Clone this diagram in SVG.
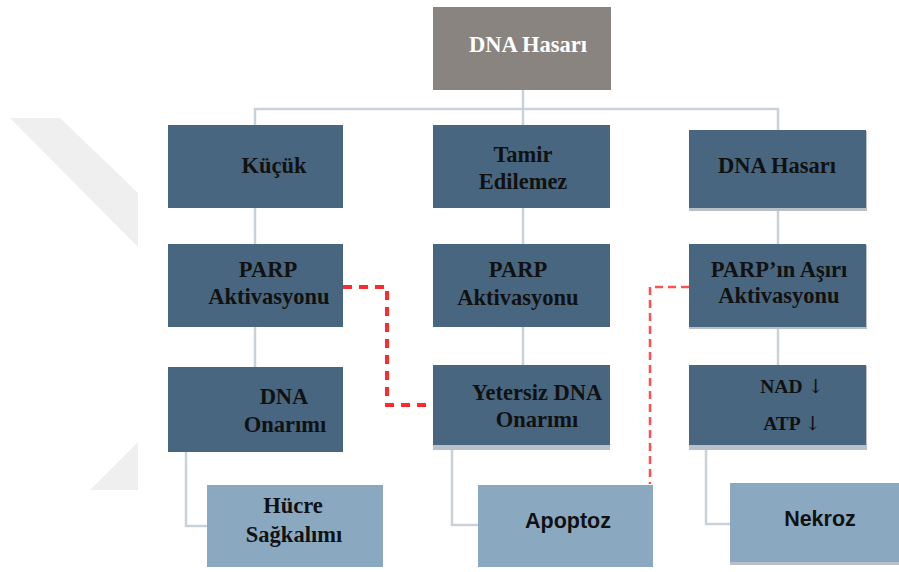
<svg xmlns="http://www.w3.org/2000/svg" width="899" height="572" viewBox="0 0 899 572">
<style>
.dk{fill:#48667f}
.lt{fill:#8aa9c1}
.sh{fill:#b9c0c8}
.t{font-family:"Liberation Serif","Times New Roman",serif;font-weight:bold;font-size:22.5px;fill:#111;text-anchor:middle}
.s{font-family:"Liberation Sans",Arial,sans-serif;font-weight:bold;font-size:21.5px;fill:#111;text-anchor:middle}
.a{font-family:"DejaVu Serif",serif;font-weight:normal}
.c{fill:none;stroke:#c9d1d9;stroke-width:2.5}
.r1{fill:none;stroke:#ff2a2a;stroke-width:4;stroke-dasharray:9,7}
.r2{fill:none;stroke:#ff5050;stroke-width:2.5;stroke-dasharray:8,5}
</style>
<rect width="899" height="572" fill="#fff"/>
<g id="watermark" fill="#efefef">
<polygon points="10,118 60,118 138,193 138,247"/>
<polygon points="138,442 138,490 90,490"/>
</g>
<g id="connectors">
<path class="c" d="M523,90 V125"/>
<path class="c" d="M255,125 V109 H778 V130"/>
<path class="c" d="M255,208 V244 M255,327 V367"/>
<path class="c" d="M186,452 V526 H207"/>
<path class="c" d="M523,208 V244 M523,327 V365"/>
<path class="c" d="M452,445 V525 H478"/>
<path class="c" d="M778,209 V244 M778,327 V365"/>
<path class="c" d="M706,445 V524 H730"/>
<path class="r1" d="M343,287 H387 V405 H433"/>
<path class="r2" d="M689,287 H650 V484"/>
</g>
<g id="n0">
<rect x="433" y="7" width="178" height="83" fill="#8a8480"/>
<text class="t" x="528" y="52" style="fill:#fff">DNA Hasarı</text>
</g>
<g id="n1">
<rect class="dk" x="168" y="125" width="175" height="83"/>
<text class="t" x="274" y="173">Küçük</text>
</g>
<g id="n2">
<rect class="dk" x="433" y="125" width="177" height="83"/>
<text class="t" x="523" y="162">Tamir</text>
<text class="t" x="523" y="189">Edilemez</text>
</g>
<g id="n3">
<rect class="sh" x="689" y="131" width="178" height="80"/>
<rect class="dk" x="689" y="130" width="177" height="78"/>
<text class="t" x="777" y="173">DNA Hasarı</text>
</g>
<g id="n4">
<rect class="dk" x="168" y="244" width="175" height="83"/>
<text class="t" x="268" y="277">PARP</text>
<text class="t" x="269" y="304">Aktivasyonu</text>
</g>
<g id="n5">
<rect class="dk" x="433" y="244" width="177" height="83"/>
<text class="t" x="518" y="277">PARP</text>
<text class="t" x="518" y="305">Aktivasyonu</text>
</g>
<g id="n6">
<rect class="sh" x="689" y="245" width="178" height="84"/>
<rect class="dk" x="689" y="244" width="177" height="83"/>
<text class="t" x="779" y="277">PARP’ın Aşırı</text>
<text class="t" x="779" y="303">Aktivasyonu</text>
</g>
<g id="n7">
<rect class="dk" x="168" y="367" width="175" height="85"/>
<text class="t" x="284" y="404">DNA</text>
<text class="t" x="285" y="432">Onarımı</text>
</g>
<g id="n8">
<rect class="sh" x="433" y="366" width="177" height="84"/>
<rect class="dk" x="433" y="365" width="177" height="80"/>
<text class="t" x="537" y="400">Yetersiz DNA</text>
<text class="t" x="537" y="427">Onarımı</text>
</g>
<g id="n9">
<rect class="sh" x="689" y="366" width="178" height="84"/>
<rect class="dk" x="689" y="365" width="177" height="80"/>
<text class="t" x="792" y="393" style="font-size:19.5px">NAD <tspan class="a">↓</tspan></text>
<text class="t" x="792" y="430" style="font-size:19.5px">ATP <tspan class="a">↓</tspan></text>
</g>
<g id="n10">
<rect class="lt" x="207" y="485" width="176" height="82"/>
<text class="t" x="293" y="513">Hücre</text>
<text class="t" x="294" y="542">Sağkalımı</text>
</g>
<g id="n11">
<rect class="lt" x="478" y="485" width="175" height="82"/>
<text class="s" x="568" y="528">Apoptoz</text>
</g>
<g id="n12">
<rect class="sh" x="730" y="484" width="169" height="81"/>
<rect class="lt" x="730" y="483" width="169" height="79"/>
<text class="s" x="820" y="526">Nekroz</text>
</g>
</svg>
